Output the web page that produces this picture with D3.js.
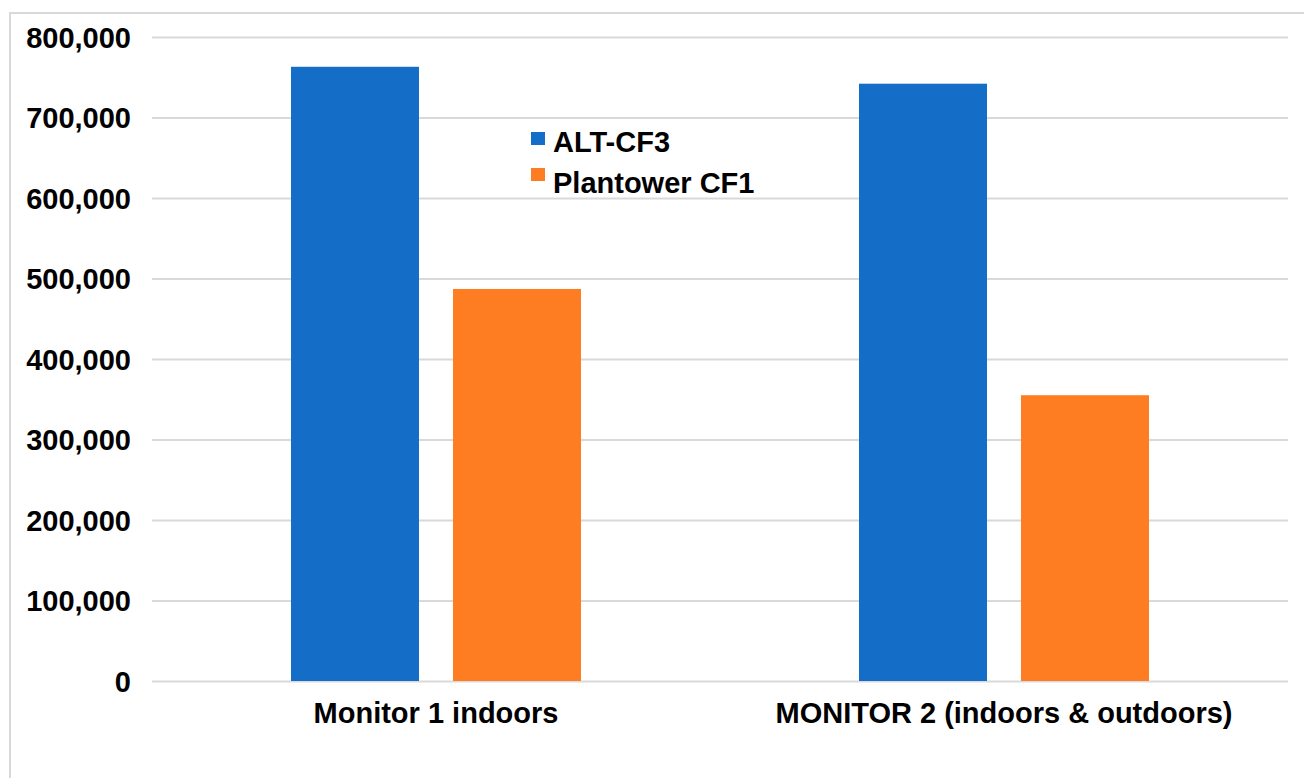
<!DOCTYPE html>
<html>
<head>
<meta charset="utf-8">
<script src="https://cdn.jsdelivr.net/npm/d3@7"></script>
<style>
  body { margin: 0; background: #fff; overflow: hidden; }
  text { font-family: "Liberation Sans", Arial, sans-serif; font-weight: bold; fill: #000; }
</style>
</head>
<body>
<div id="chart"></div>
<script>
// Data
const categories = ["Monitor 1 indoors", "MONITOR 2 (indoors & outdoors)"];
const seriesNames = ["ALT-CF3", "Plantower CF1"];
const altValues = [763000, 742000];
const plantowerValues = [487000, 355000];
const yTicks = [0, 100000, 200000, 300000, 400000, 500000, 600000, 700000, 800000];

const colors = { "ALT-CF3": "#146ec8", "Plantower CF1": "#fe7d22" };

const width = 1304, height = 778;
const margin = { top: 37, right: 16, bottom: 97, left: 152 };
const innerWidth = width - margin.left - margin.right;
const innerHeight = height - margin.top - margin.bottom;

const rows = categories.map((c, i) => ({
    category: c,
    values: [
        { series: seriesNames[0], value: altValues[i] },
        { series: seriesNames[1], value: plantowerValues[i] }
    ]
}));

const svg = d3.select("#chart").append("svg")
    .attr("width", width)
    .attr("height", height)
    .style("display", "block");

// outer frame (left and top edges visible in the picture)
svg.append("path")
    .attr("d", `M10,${height} V13 H${width}`)
    .attr("fill", "none")
    .attr("stroke", "#d9d9d9")
    .attr("stroke-width", 2);

const g = svg.append("g")
    .attr("transform", `translate(${margin.left},${margin.top})`);

const x0 = d3.scaleBand()
    .domain(categories)
    .range([0, innerWidth])
    .padding(0);

const x1 = d3.scaleBand()
    .domain(seriesNames)
    .range([0, x0.bandwidth()])
    .paddingInner(0.21)
    .paddingOuter(0.858);

const y = d3.scaleLinear()
    .domain([0, 800000])
    .range([innerHeight, 0]);

// gridlines + y labels
const yAxis = d3.axisLeft(y)
    .tickValues(yTicks)
    .tickSize(-innerWidth)
    .tickPadding(21)
    .tickFormat(d3.format(","));

g.append("g")
    .attr("class", "y-axis")
    .call(yAxis)
    .call(s => s.select(".domain").remove())
    .call(s => s.selectAll(".tick line")
        .attr("stroke", "#d9d9d9")
        .attr("stroke-width", 2))
    .call(s => s.selectAll(".tick text")
        .attr("font-size", 29)
        .attr("dy", "0.36em")
        .style("font-family", "'Liberation Sans', Arial, sans-serif")
        .style("font-weight", "bold")
        .attr("fill", "#000"));

// bars
const groups = g.selectAll(".group")
    .data(rows)
    .join("g")
    .attr("class", "group")
    .attr("transform", d => `translate(${x0(d.category)},0)`);

groups.selectAll("rect")
    .data(d => d.values)
    .join("rect")
    .attr("x", d => x1(d.series))
    .attr("y", d => y(d.value))
    .attr("width", x1.bandwidth())
    .attr("height", d => innerHeight - y(d.value))
    .attr("fill", d => colors[d.series]);

// x labels
const xAxis = d3.axisBottom(x0).tickSize(0).tickPadding(21);
g.append("g")
    .attr("transform", `translate(0,${innerHeight})`)
    .call(xAxis)
    .call(s => s.select(".domain").remove())
    .call(s => s.selectAll(".tick text")
        .attr("font-size", 29)
        .style("font-family", "'Liberation Sans', Arial, sans-serif")
        .style("font-weight", "bold")
        .attr("fill", "#000"));

// legend
const legend = svg.append("g")
    .attr("transform", "translate(531,132)");

legend.selectAll("rect")
    .data(seriesNames)
    .join("rect")
    .attr("x", 0)
    .attr("y", (d, i) => i * 36)
    .attr("width", 14)
    .attr("height", 13)
    .attr("fill", d => colors[d]);

legend.selectAll("text")
    .data(seriesNames)
    .join("text")
    .attr("x", 22)
    .attr("y", (d, i) => 20 + i * 41)
    .attr("font-size", 29)
    .text(d => d);
</script>
</body>
</html>
